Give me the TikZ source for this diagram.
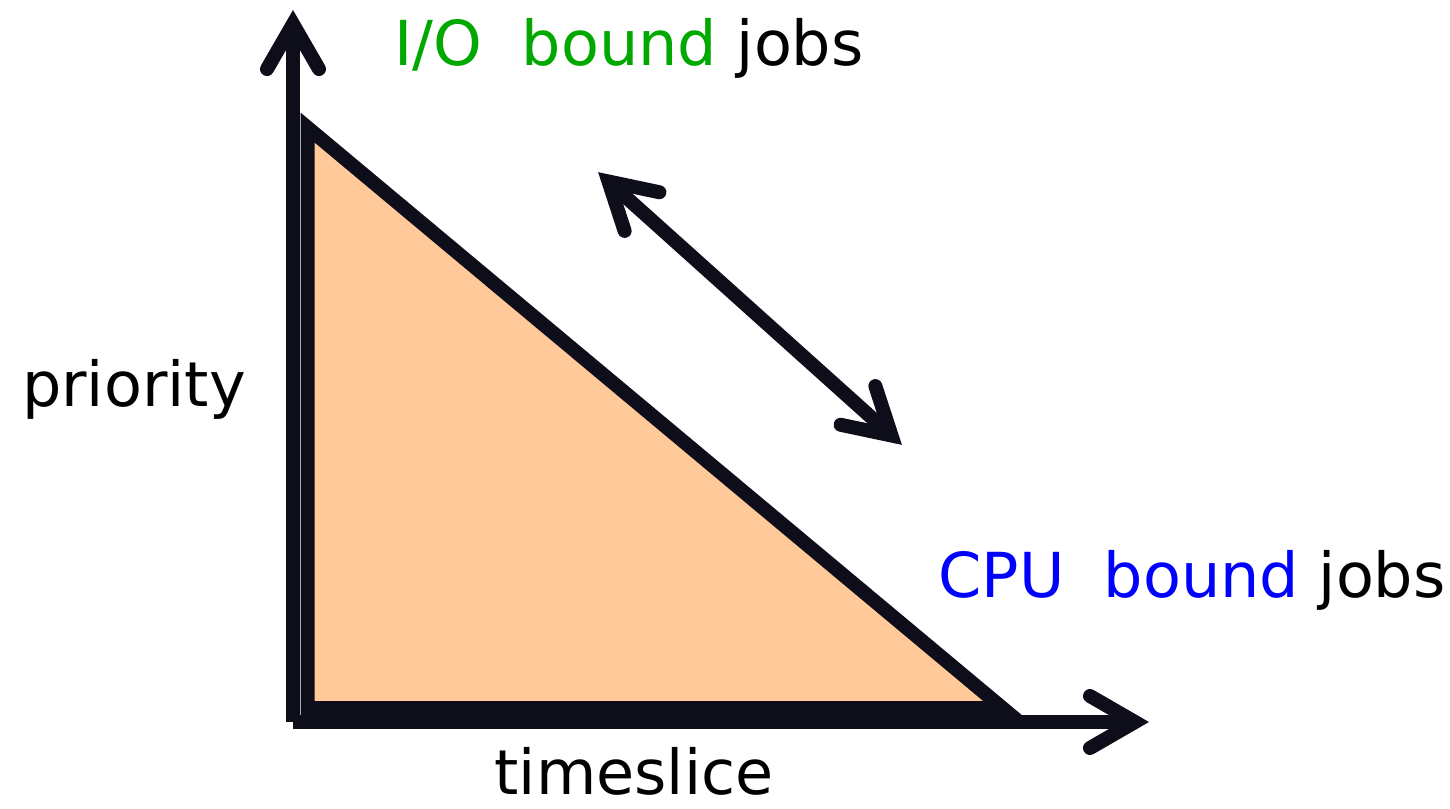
\documentclass[tikz,border=0pt]{standalone}
\usepackage{fontspec}
\setmainfont{DejaVu Sans}
\usepackage{tikz}
\usetikzlibrary{calc}

\definecolor{ink}{RGB}{14,13,26}
\definecolor{peach}{RGB}{255,201,153}
\definecolor{iogreen}{RGB}{0,168,0}
\definecolor{cpublue}{RGB}{0,0,255}

\begin{document}
\begin{tikzpicture}[x=1pt, y=-1pt]
      \tikzset{stroke/.style = {draw=ink, line width=14pt}}
      \tikzset{shaft/.style = {stroke, line cap=butt}}
      \tikzset{head/.style = {stroke, line cap=round, line join=miter}}
      \tikzset{region/.style = {stroke, fill=peach, line join=miter}}
      \tikzset{label/.style = {anchor=base, inner sep=0pt, font=\fontsize{62}{72}\selectfont}}
      \useasboundingbox (0, 0) rectangle (1450, 808);
      % axes
      \coordinate (o) at (293, 722);
      \coordinate (ytop) at (293, 24);
      \coordinate (xend) at (1135, 722);
      \draw[shaft] (o) -- (ytop);
      \draw[shaft] (o) -- (xend);
      \draw[head] ($(ytop)!52pt!30:(o)$) -- (ytop) -- ($(ytop)!52pt!-30:(o)$);
      \draw[head] ($(xend)!52pt!30:(o)$) -- (xend) -- ($(xend)!52pt!-30:(o)$);
      % triangle
      \coordinate (a) at (307.5, 127.5);
      \coordinate (b) at (307.5, 708);
      \coordinate (c) at (1002.5, 708);
      \draw[region] (a) -- (b) -- (c) -- cycle;
      % double arrow
      \coordinate (p) at (608.5, 181.5);
      \coordinate (q) at (891.5, 435.5);
      \draw[shaft] (p) -- (q);
      \draw[head] ($(p)!52pt!30:(q)$) -- (p) -- ($(p)!52pt!-30:(q)$);
      \draw[head] ($(q)!52pt!30:(p)$) -- (q) -- ($(q)!52pt!-30:(p)$);
      % labels
      \node[label] (io) at (629, 66) {\textcolor{iogreen}{I/O~~bound} jobs};
      \node[label] (cpu) at (1192, 597) {\textcolor{cpublue}{CPU~~bound} jobs};
      \node[label] (prio) at (134, 406) {priority};
      \node[label] (time) at (634, 794) {timeslice};
\end{tikzpicture}
\end{document}
